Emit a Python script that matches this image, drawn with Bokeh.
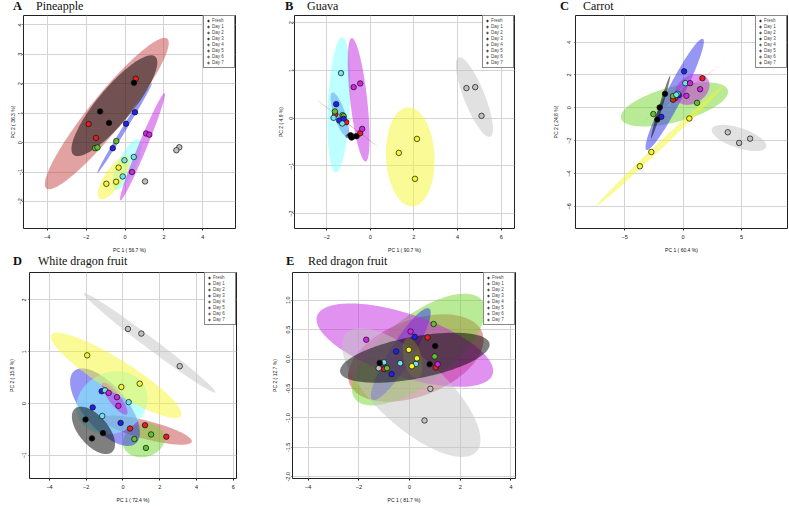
import numpy as np
from bokeh.plotting import figure
from bokeh.layouts import column, row
from bokeh.models import Legend, LegendItem, FixedTicker, PrintfTickFormatter, Range1d, Div
from bokeh.embed import file_html
from bokeh.resources import INLINE

groups = ["Fresh", "Day 1", "Day 2", "Day 3", "Day 4", "Day 5", "Day 6", "Day 7"]
point_colors = ["#000000", "#E3201E", "#5EC22E", "#2020E8", "#6FE3EE", "#D025E0", "#F6F62A", "#C0C0C0"]
ellipse_colors = ["#000000", "#C84646", "#73D72D", "#2D2DEB", "#7DFFFF", "#C323E1", "#F5F52D", "#C3C3C3"]

# ---- A: Pineapple ----
pine_pc1 = [[0.46, -1.28, -0.82], [0.55, -1.87, -1.49], [-0.45, -1.54, -1.42], [0.51, 0.05, -0.63],
            [0.45, -0.03, -0.12], [1.08, 1.25, 0.36], [-0.33, -0.46, -0.96], [2.79, 2.64, 1.03]]
pine_pc2 = [[2.03, 1.06, 0.67], [2.17, 0.63, 0.16], [0.05, -0.19, -0.165], [1.03, 0.64, -0.19],
            [-0.49, -0.60, -1.15], [0.31, 0.27, -1.0], [-0.85, -1.33, -1.40], [-0.16, -0.26, -1.32]]

# ---- B: Guava ----
guava_pc1 = [[-0.90, -0.855, -0.64], [-1.60, -1.10, -0.46], [-1.62, -1.27, -1.22], [-1.56, -1.42, -1.22],
             [-1.34, -1.68, -1.28], [-0.76, -0.46, -0.37], [2.14, 1.31, 2.05], [4.41, 4.81, 5.10]]
guava_pc2 = [[-0.357, -0.406, -0.378], [0.084, -0.084, -0.315], [0.14, 0.063, 0.042], [0.294, -0.049, -0.014],
             [0.944, 0.007, -0.112], [0.65, 0.727, -0.224], [-0.434, -0.727, -1.27], [0.63, 0.65, 0.049]]

# ---- C: Carrot ----
carrot_pc1 = [[-1.54, -2.0, -2.2], [1.66, -0.69, -0.86], [-0.86, 1.2, -2.54], [0.09, -1.86, -0.37],
              [0.2, -0.46, -0.57], [0.6, 1.46, 0.29], [0.54, -2.71, -3.69], [3.83, 4.8, 5.74]]
carrot_pc2 = [[0.85, 0.02, -0.71], [1.80, 0.584, 0.485], [0.71, 0.30, -0.38], [2.22, -0.55, 0.77],
              [1.50, 0.85, 0.79], [1.50, 1.13, 0.73], [-0.65, -2.69, -3.56], [-1.49, -2.14, -1.88]]

# ---- D: White dragon fruit ----
wd_pc1 = [[-2.04, -1.09, -1.69], [0.38, 1.2, 2.36], [0.62, 1.53, 1.25], [-1.16, -1.65, -0.13],
          [-0.98, 0.31, -1.13], [-0.78, -0.33, -0.25], [-1.95, -0.09, 0.91], [0.27, 1.0, 3.09]]
wd_pc2 = [[-0.312, -0.573, -0.675], [-0.484, -0.42, -0.643], [-0.688, -0.599, -0.86], [0.236, -0.076, -0.376],
          [0.255, 0.025, -0.242], [0.204, 0.121, -0.045], [0.93, 0.318, 0.382], [1.44, 1.35, 0.72]]

# ---- E: Red dragon fruit ----
rd_pc1 = [[-1.18, 1.01, 0.79], [0.71, -1.0, 1.03], [0.95, 0.99, -0.89], [0.20, -0.53, -0.71],
          [-1.01, 0.25, -0.37], [-1.71, 0.04, 1.11], [0.29, 0.09, -0.03], [-1.22, 0.82, 0.59]]
rd_pc2 = [[-0.067, 0.222, -0.089], [0.367, -0.172, -0.144], [0.594, 0.044, -0.156], [0.378, 0.128, -0.256],
          [-0.056, -0.083, -0.07], [0.328, 0.467, -0.089], [0.011, -0.122, 0.156], [-0.156, -0.506, -1.044]]

CHI = np.sqrt(5.991)  # 95% confidence ellipse


def ellipse_pts(xs, ys, n=160):
    xs = np.asarray(xs, float)
    ys = np.asarray(ys, float)
    cov = np.cov(np.vstack([xs, ys]))
    vals, vecs = np.linalg.eigh(cov)
    vals = np.clip(vals, 1e-12, None)
    t = np.linspace(0, 2 * np.pi, n)
    circ = np.vstack([np.cos(t), np.sin(t)])
    pts = vecs @ (np.sqrt(vals)[:, None] * circ) * CHI
    return xs.mean() + pts[0], ys.mean() + pts[1]


def header(letter, name, width, lx, nx):
    html = ('<div style="position:relative;height:12px;width:%dpx;font-family:\'Liberation Serif\';'
            'font-size:12px;line-height:12px;white-space:nowrap;color:#111;">'
            '<span style="position:absolute;left:%dpx;top:0;font-weight:bold;font-size:12.5px;">%s</span>'
            '<span style="position:absolute;left:%dpx;top:0;">%s</span></div>') % (width, lx, letter, nx, name)
    return Div(text=html, width=width, height=12, margin=(0, 0, 0, 0))


def panel(pc1, pc2, xlab, ylab, xr, yr, xt, yt, yfmt, width, height,
          bl, br, bt, bb, y_mls, ylab_so):
    p = figure(width=width, height=height, x_range=Range1d(*xr), y_range=Range1d(*yr),
               output_backend="svg", toolbar_location=None,
               min_border_left=bl, min_border_right=br, min_border_top=bt, min_border_bottom=bb)
    p.background_fill_color = "white"
    p.border_fill_color = "white"
    p.outline_line_color = "#222222"
    p.outline_line_width = 1
    p.xaxis.ticker = FixedTicker(ticks=xt)
    p.yaxis.ticker = FixedTicker(ticks=yt)
    p.xgrid.ticker = FixedTicker(ticks=xt)
    p.ygrid.ticker = FixedTicker(ticks=yt)
    p.grid.grid_line_color = "#d3d3d3"
    p.grid.grid_line_width = 1
    if yfmt:
        p.yaxis.formatter = PrintfTickFormatter(format=yfmt)
    for ax in (p.xaxis[0], p.yaxis[0]):
        ax.axis_line_color = None
        ax.minor_tick_line_color = None
        ax.major_tick_in = 0
        ax.major_tick_line_color = "#222222"
        ax.major_label_text_font = "Liberation Sans"
        ax.major_label_text_font_size = "5.5px"
        ax.major_label_text_color = "#111111"
        ax.axis_label_text_font = "Liberation Sans"
        ax.axis_label_text_font_size = "5px"
        ax.axis_label_text_font_style = "normal"
        ax.axis_label_text_color = "#111111"
    p.xaxis.axis_label = xlab
    p.yaxis.axis_label = ylab
    p.xaxis.major_tick_out = 2
    p.xaxis.major_label_standoff = 4
    p.xaxis.axis_label_standoff = 5
    p.yaxis.major_tick_out = 1
    p.yaxis.major_label_standoff = y_mls
    p.yaxis.major_label_orientation = "vertical"
    p.yaxis.axis_label_standoff = ylab_so

    order = [1, 2, 3, 4, 5, 6, 7, 0]
    for i in order:
        ex, ey = ellipse_pts(pc1[i], pc2[i])
        p.patch(ex, ey, fill_color=ellipse_colors[i], fill_alpha=0.5, line_color=None)
    rends = {}
    for i in order:
        rends[i] = p.scatter(pc1[i], pc2[i], size=5.5, fill_color=point_colors[i],
                             line_color="#111111", line_width=0.7)
    items = [LegendItem(label=groups[i], renderers=[rends[i]]) for i in range(8)]
    leg = Legend(items=items, location="top_right", label_text_font="Liberation Sans",
                 label_text_font_size="4.5px", glyph_width=4, glyph_height=5, label_height=5,
                 label_standoff=2, spacing=1, padding=2, margin=0,
                 border_line_color="#111111", border_line_width=1, background_fill_alpha=1)
    p.add_layout(leg)
    return p


pA = panel(pine_pc1, pine_pc2, "PC 1 ( 56.7 %)", "PC 2 ( 36.3 %)",
           (-5.22, 5.68), (-2.92, 4.32), [-4, -2, 0, 2, 4], [-2, -1, 0, 1, 2, 3, 4], None,
           260, 243, 23, 25, 3, 27, 0, 0)
pB = panel(guava_pc1, guava_pc2, "PC 1 ( 90.7 %)", "PC 2 ( 4.9 %)",
           (-3.47, 6.61), (-2.31, 2.15), [-2, 0, 2, 4, 6], [-2, -1, 0, 1, 2], None,
           260, 243, 34, 6, 3, 27, 0, 3)
pC = panel(carrot_pc1, carrot_pc2, "PC 1 ( 60.4 %)", "PC 2 ( 24.8 %)",
           (-9.2, 8.94), (-7.35, 5.62), [-5, 0, 5], [-6, -4, -2, 0, 2, 4], None,
           268, 243, 55, 1, 0, 27, 3, 6)
pD = panel(wd_pc1, wd_pc2, "PC 1 ( 72.4 %)", "PC 2 ( 15.8 %)",
           (-5.09, 6.18), (-1.45, 2.53), [-4, -2, 0, 2, 4, 6], [-1, 0, 1, 2], None,
           260, 238, 29, 24, 5, 25, 2, 5)
pE = panel(rd_pc1, rd_pc2, "PC 1 ( 81.7 %)", "PC 2 ( 12.7 %)",
           (-4.62, 4.18), (-2.03, 1.47), [-4, -2, 0, 2, 4], [-2.0, -1.5, -1.0, -0.5, 0.0, 0.5, 1.0], "%.1f",
           260, 238, 32, 5, 5, 25, 1, 6)

hA = header("A", "Pineapple", 260, 13, 36)
hB = header("B", "Guava", 260, 25, 47)
hC = header("C", "Carrot", 268, 40, 63)
hD = header("D", "White dragon fruit", 260, 13, 38)
hE = header("E", "Red dragon fruit", 260, 26, 48)

layout = column(row(hA, hB, hC), row(pA, pB, pC), row(hD, hE), row(pD, pE), spacing=0)
open("out.html", "w").write(file_html(layout, INLINE))
